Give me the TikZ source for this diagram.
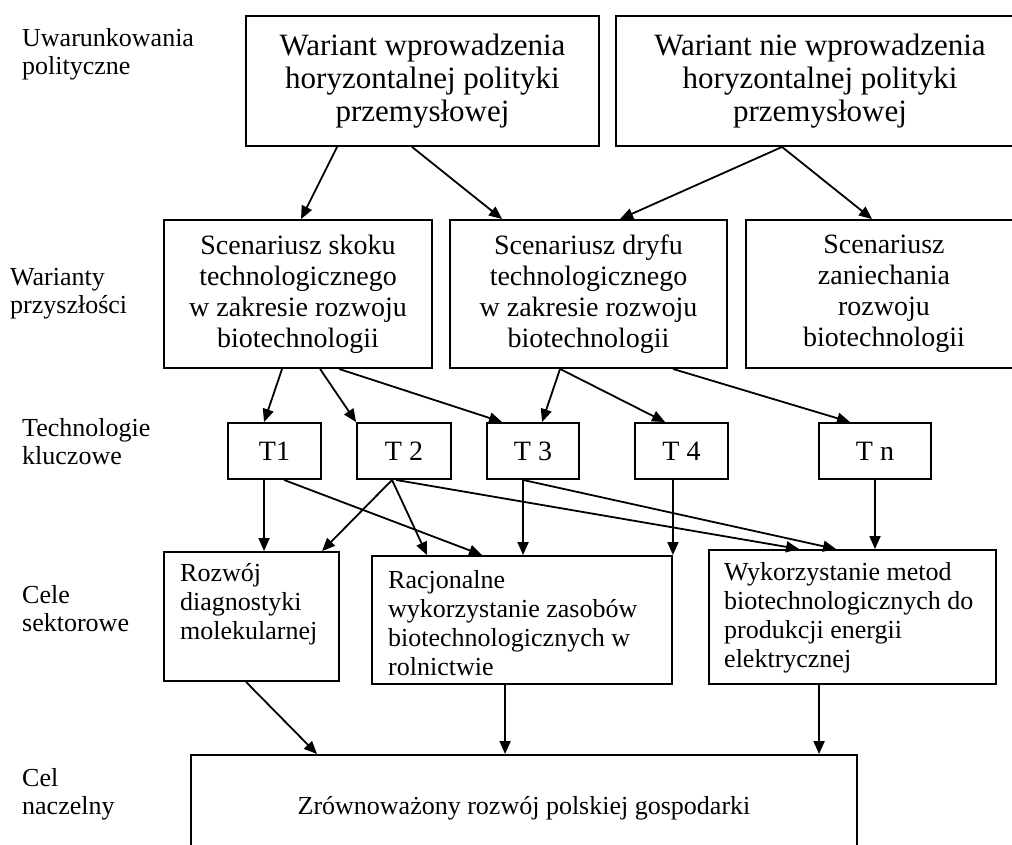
\documentclass[tikz,border=0pt]{standalone}
\usepackage{fontspec}
\setmainfont{Liberation Serif}
\usetikzlibrary{arrows.meta}
\begin{document}
\begin{tikzpicture}[x=1pt,y=-1pt,
  box/.style={draw, line width=1.9pt, inner sep=0pt, align=center},
  fbig/.style={font=\fontsize{31}{33}\selectfont},
  fmid/.style={font=\fontsize{28}{31}\selectfont},
  fsmall/.style={font=\fontsize{26}{29}\selectfont},
  side/.style={anchor=west, align=left, inner sep=0pt, font=\fontsize{26}{28}\selectfont},
  goaltext/.style={anchor=west, align=left, inner sep=0pt, font=\fontsize{26}{29}\selectfont},
  arr/.style={line width=1.8pt, -{Triangle[length=13pt,width=11pt]}}]
\useasboundingbox (0,0) rectangle (1012,844);
\clip (0,0) rectangle (1012,844);

% row labels
\node[side] (l1) at (22,54) {Uwarunkowania\\polityczne};
\node[side] (l2) at (10,294) {Warianty\\przyszłości};
\node[side] (l3) at (22,442) {Technologie\\kluczowe};
\node[side] (l4) at (22,609) {Cele\\sektorowe};
\node[side] (l5) at (22,794) {Cel\\naczelny};

% policy variants
\node[box, fbig, minimum width=353pt, minimum height=130pt] (p1) at (422.5,81)
  {Wariant wprowadzenia\\horyzontalnej polityki\\przemysłowej};
\node[box, fbig, minimum width=408pt, minimum height=130pt] (p2) at (820,81)
  {Wariant nie wprowadzenia\\horyzontalnej polityki\\przemysłowej};

% scenarios
\node[box, fmid, minimum width=268pt, minimum height=148pt] (s1) at (298,294)
  {Scenariusz skoku\\technologicznego\\w zakresie rozwoju\\biotechnologii};
\node[box, fmid, minimum width=277pt, minimum height=148pt] (s2) at (588.5,294)
  {Scenariusz dryfu\\technologicznego\\w zakresie rozwoju\\biotechnologii};
\node[box, fmid, minimum width=276pt, minimum height=148pt] (s3) at (884,294)
  {Scenariusz\\zaniechania\\rozwoju\\biotechnologii};

% key technologies
\node[box, fmid, minimum width=93pt, minimum height=56pt] (t1) at (274.5,451) {T1};
\node[box, fmid, minimum width=94pt, minimum height=56pt] (t2) at (404,451) {T 2};
\node[box, fmid, minimum width=92pt, minimum height=56pt] (t3) at (533,451) {T 3};
\node[box, fmid, minimum width=93pt, minimum height=56pt] (t4) at (681.5,451) {T 4};
\node[box, fmid, minimum width=112pt, minimum height=56pt] (tn) at (875,451) {T n};

% sector goals
\node[box, minimum width=175pt, minimum height=129pt] (g1) at (251.5,616.5) {};
\node[box, minimum width=300pt, minimum height=128pt] (g2) at (522,620) {};
\node[box, minimum width=287pt, minimum height=134pt] (g3) at (852.5,617) {};
\node[goaltext] (g1t) at (180,604) {Rozwój\\diagnostyki\\molekularnej};
\node[goaltext] (g2t) at (388,623.5) {Racjonalne\\wykorzystanie zasobów\\biotechnologicznych w\\rolnictwie};
\node[goaltext] (g3t) at (724,617.5) {Wykorzystanie metod\\biotechnologicznych do\\produkcji energii\\elektrycznej};

% main goal
\node[box, fsmall, minimum width=666pt, minimum height=115pt] (m) at (524,812.5) {};
\node[fsmall, inner sep=0pt] (mt) at (524,808) {Zrównoważony rozwój polskiej gospodarki};

% policy -> scenarios
\draw[arr] ([xshift=92pt]p1.south west) -- ([xshift=138pt]s1.north west);
\draw[arr] ([xshift=167pt]p1.south west) -- ([xshift=53pt]s2.north west);
\draw[arr] ([xshift=167pt]p2.south west) -- ([xshift=171pt]s2.north west);
\draw[arr] ([xshift=167pt]p2.south west) -- ([xshift=127pt]s3.north west);

% scenarios -> technologies
\draw[arr] ([xshift=119pt]s1.south west) -- ([xshift=37pt]t1.north west);
\draw[arr] ([xshift=157pt]s1.south west) -- (t2.north west);
\draw[arr] ([xshift=176pt]s1.south west) -- ([xshift=16pt]t3.north west);
\draw[arr] ([xshift=111pt]s2.south west) -- ([xshift=56pt]t3.north west);
\draw[arr] ([xshift=111pt]s2.south west) -- ([xshift=31pt]t4.north west);
\draw[arr] ([xshift=224pt]s2.south west) -- ([xshift=32pt]tn.north west);

% technologies -> sector goals
\draw[arr] ([xshift=37pt]t1.south west) -- ([xshift=101pt]g1.north west);
\draw[arr] ([xshift=57pt]t1.south west) -- ([xshift=111pt]g2.north west);
\draw[arr] ([xshift=36pt]t2.south west) -- ([xshift=159pt]g1.north west);
\draw[arr] ([xshift=36pt]t2.south west) -- ([xshift=56pt]g2.north west);
\draw[arr] ([xshift=40pt]t2.south west) -- ([xshift=91pt]g3.north west);
\draw[arr] ([xshift=37pt]t3.south west) -- ([xshift=152pt]g2.north west);
\draw[arr] ([xshift=37pt]t3.south west) -- ([xshift=128pt]g3.north west);
\draw[arr] (t4.south -| g2.north east) -- (g2.north east);
\draw[arr] (tn.south) -- (tn.south |- g3.north);

% sector goals -> main goal
\draw[arr] ([xshift=83pt]g1.south west) -- ([xshift=127pt]m.north west);
\draw[arr] ([xshift=134pt]g2.south west) -- ([xshift=315pt]m.north west);
\draw[arr] ([xshift=111pt]g3.south west) -- ([xshift=629pt]m.north west);
\end{tikzpicture}
\end{document}
